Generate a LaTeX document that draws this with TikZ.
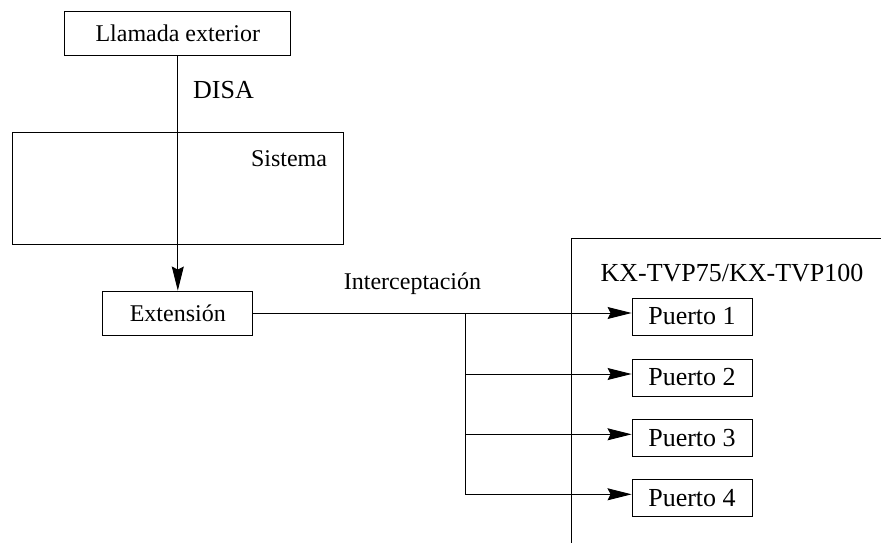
\documentclass[tikz,border=0pt]{standalone}
\usepackage{fontspec}
\setmainfont{Liberation Serif}
\usetikzlibrary{arrows.meta}
\begin{document}
\begin{tikzpicture}[x=1pt,y=-1pt,
  box/.style={draw,line width=0.9pt,inner sep=0pt,anchor=center},
  lbl/.style={inner sep=0pt,anchor=center},
  conn/.style={line width=0.9pt},
  arr/.style={conn,-{Stealth[length=24pt,width=12pt,inset=3pt]}}]
\useasboundingbox (0,0) rectangle (881,543);
% boxes
\node[box,minimum width=226pt,minimum height=44pt,font=\fontsize{24}{28}\selectfont] (llam) at (177.8,33) {Llamada exterior};
\node[box,minimum width=331pt,minimum height=111.7pt] (sist) at (177.8,188.2) {};
\node[lbl,font=\fontsize{24}{28}\selectfont] (sistlbl) at (289,159) {Sistema};
\node[lbl,font=\fontsize{26}{30}\selectfont] (disa) at (223.5,90) {DISA};
\node[box,minimum width=150pt,minimum height=44pt,font=\fontsize{24}{28}\selectfont] (ext) at (177.8,313) {Extensión};
\node[lbl,font=\fontsize{24}{28}\selectfont] (inter) at (412.5,284) {Interceptación};
% KX frame
\coordinate (kxa) at (881,238.3);
\coordinate (kxb) at (571.7,238.3);
\coordinate (kxc) at (571.7,543);
\draw[conn] (kxa) -- (kxb) -- (kxc);
\node[lbl,font=\fontsize{26}{30}\selectfont] (kx) at (732,273) {KX-TVP75/KX-TVP100};
% ports
\foreach \i/\y in {1/316.5,2/377.5,3/438,4/498.3}{
  \node[box,minimum width=120pt,minimum height=37pt,font=\fontsize{26}{30}\selectfont] (p\i) at (692,\y) {Puerto \i};
}
% connectors
\draw[arr] (llam.south) -- (ext.north);
\coordinate (br1) at (465,313);
\coordinate (br2) at (465,374);
\coordinate (br3) at (465,434.3);
\coordinate (br4) at (465,494.3);
\draw[arr] (ext.east) -- (ext.east -| p1.west);
\draw[conn] (br1) -- (br4);
\draw[arr] (br2) -- (br2 -| p2.west);
\draw[arr] (br3) -- (br3 -| p3.west);
\draw[arr] (br4) -- (br4 -| p4.west);
\end{tikzpicture}
\end{document}
